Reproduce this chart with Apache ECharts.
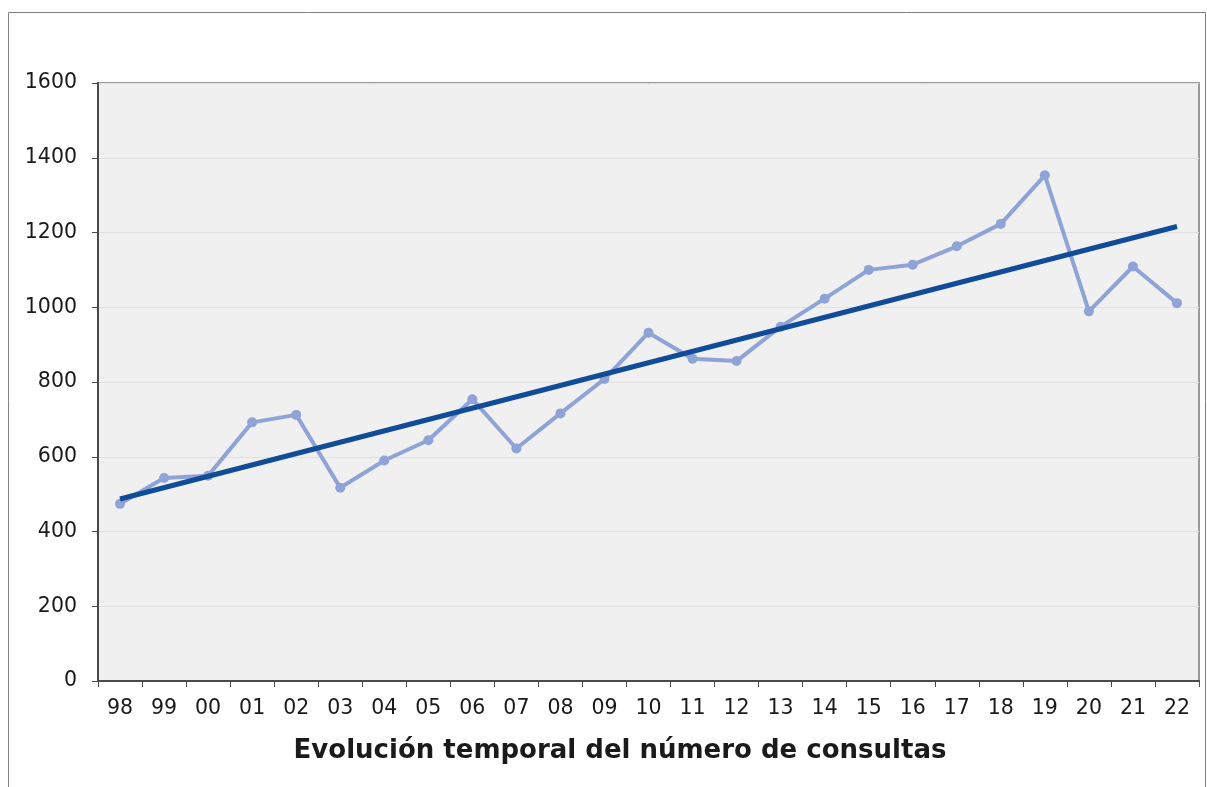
<!DOCTYPE html>
<html>
<head>
<meta charset="utf-8">
<script src="https://cdn.jsdelivr.net/npm/echarts@6/dist/echarts.min.js"></script>
<style>
    html, body { margin: 0; padding: 0; background: #fff; }
    #chart { width: 1207px; height: 787px; }
</style>
</head>
<body>
<div id="chart"></div>
<script>
// años (eje x)
const years = ['98', '99', '00', '01', '02', '03', '04', '05', '06', '07', '08', '09', '10',
    '11', '12', '13', '14', '15', '16', '17', '18', '19', '20', '21', '22']
// número de consultas por año
const consultas = [474, 543, 549, 692, 712, 517, 590, 644, 754, 622, 716, 808, 932,
    862, 856, 948, 1023, 1100, 1114, 1163, 1223, 1353, 989, 1109, 1011]
// línea de tendencia: valor inicial y final
const tendencia = [487, 1216]
const yTicks = { min: 0, max: 1600, interval: 200 }

const trendData = years.map((y, i) => {
    if (i === 0) return tendencia[0]
    if (i === years.length - 1) return tendencia[1]
    return null
})

const font = 'DejaVu Sans, Verdana, sans-serif'
const chart = echarts.init(document.getElementById('chart'))

chart.setOption({
    animation: false,
    grid: {
        left: 98,
        top: 83,
        width: 1101,
        height: 598,
        show: true,
        backgroundColor: '#f0f0f0',
        borderColor: '#9a9a9a',
        borderWidth: 2
    },
    graphic: [
        {
            type: 'rect',
            shape: { x: 8.5, y: 12.5, width: 1197, height: 800 },
            style: { fill: 'none', stroke: '#808080', lineWidth: 1 },
            silent: true
        },
        {
            type: 'text',
            x: 620,
            y: 751,
            style: {
                text: 'Evolución temporal del número de consultas',
                font: 'bold 26px ' + font,
                fill: '#1a1a1a',
                align: 'center',
                verticalAlign: 'middle'
            }
        }
    ],
    xAxis: {
        type: 'category',
        data: years,
        boundaryGap: true,
        axisLine: { lineStyle: { color: '#4a4a4a', width: 2 } },
        axisTick: { show: true, length: 6, lineStyle: { color: '#4a4a4a', width: 1 } },
        axisLabel: {
            margin: 17,
            fontSize: 20.5,
            fontFamily: font,
            color: '#1a1a1a',
            interval: 0
        },
        splitLine: { show: false }
    },
    yAxis: {
        type: 'value',
        min: yTicks.min,
        max: yTicks.max,
        interval: yTicks.interval,
        axisLine: { show: true, lineStyle: { color: '#4a4a4a', width: 2 } },
        axisTick: { show: true, length: 6, lineStyle: { color: '#4a4a4a', width: 1 } },
        axisLabel: {
            margin: 21,
            fontSize: 20.5,
            fontFamily: font,
            color: '#1a1a1a',
            formatter: v => String(v)
        },
        splitLine: { lineStyle: { color: '#e0e0e0', width: 1 } }
    },
    series: [
        {
            name: 'Consultas',
            type: 'line',
            data: consultas,
            symbol: 'circle',
            symbolSize: 10,
            lineStyle: { color: '#8fa3d7', width: 4 },
            itemStyle: { color: '#8fa3d7' },
            z: 2
        },
        {
            name: 'Tendencia',
            type: 'line',
            data: trendData,
            connectNulls: true,
            showSymbol: false,
            symbol: 'none',
            lineStyle: { color: '#114c98', width: 5 },
            z: 3
        }
    ]
})
</script>
</body>
</html>
